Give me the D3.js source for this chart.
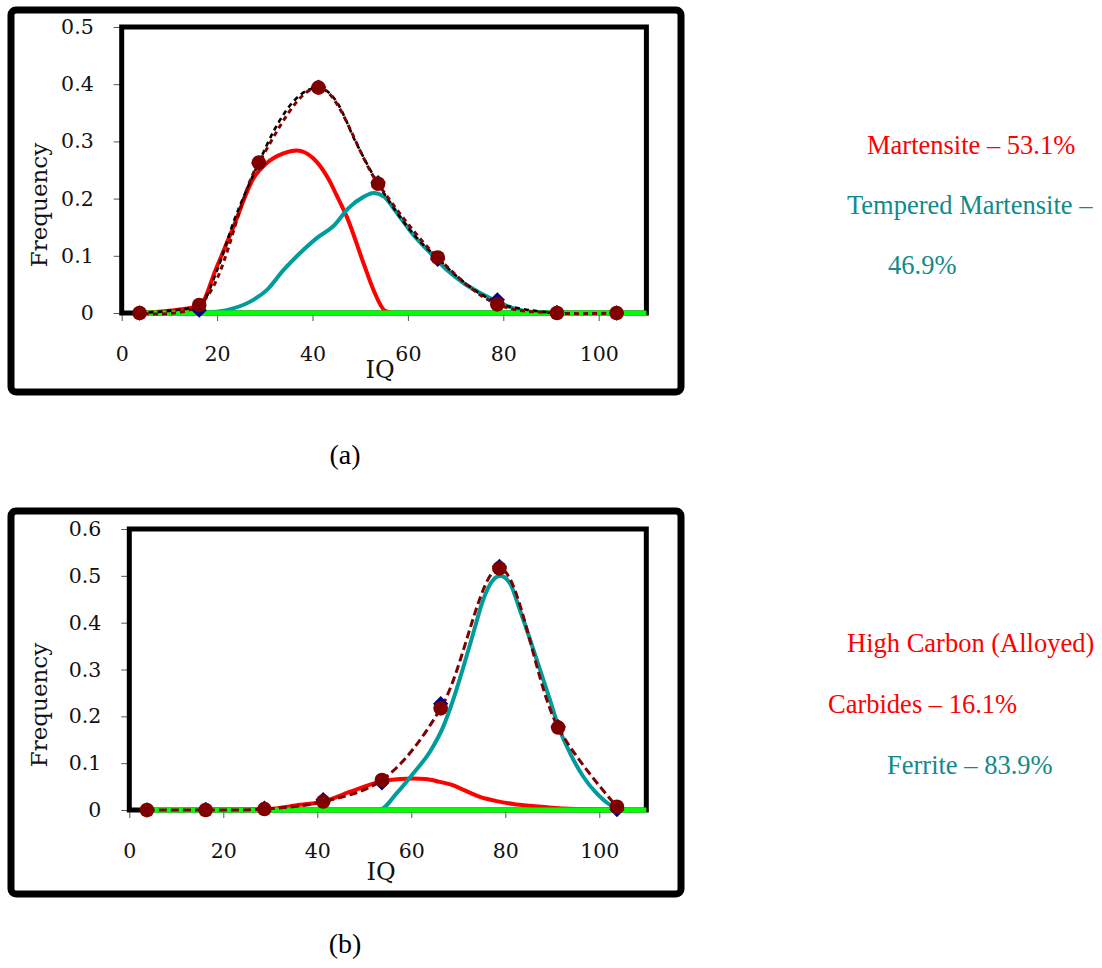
<!DOCTYPE html>
<html><head><meta charset="utf-8">
<script src="https://cdn.jsdelivr.net/npm/d3@7"></script>
<style>body{margin:0;background:#fff;} svg{display:block}</style>
</head><body>
<svg id="c" width="1102" height="968"></svg>
<script>
// ---------- shared data ----------
const binCenters = [3.75, 16.25, 28.75, 41.25, 53.75, 66.25, 78.75, 91.25, 103.75];
const xTickValues = [0, 20, 40, 60, 80, 100];
const xTickLabels = ["0", "20", "40", "60", "80", "100"];
const zeroLine = [[3.75, 0], [110, 0]];

// ---------- panel (a) ----------
const aYTickValues = [0, 0.1, 0.2, 0.3, 0.4, 0.5];
const aYTickLabels = ["0", "0.1", "0.2", "0.3", "0.4", "0.5"];
const aCircles  = [0, 0.014, 0.263, 0.394, 0.226, 0.097, 0.015, 0, 0];
const aDiamonds = [0, 0.005, 0.262, 0.395, 0.228, 0.094, 0.023, 0.001, 0];
const aMartensite = [[3.75,0],[16.25,0.012],[19.9,0.08],[23.4,0.15],[27.6,0.235],[30.4,0.262],[33.9,0.279],[36.7,0.284],[40.2,0.27],[43.3,0.235],[45.1,0.205],[47.2,0.168],[50.7,0.087],[52.8,0.04],[55.2,0.004],[57,0]];
const aTempered = [[3.75,0],[16.25,0],[20,0.002],[23.4,0.008],[27.6,0.023],[30.4,0.04],[33.9,0.075],[37.4,0.105],[40.9,0.131],[44.4,0.152],[47.5,0.183],[50.7,0.203],[52.8,0.21],[54.9,0.204],[57.7,0.175],[61.2,0.136],[64.7,0.105],[68.2,0.075],[71.7,0.052],[75.2,0.035],[78.7,0.02],[82.2,0.008],[85.7,0.002],[90,0]];
const aFit = [[3.75,0],[16.25,0.012],[20,0.075],[23.5,0.16],[28.75,0.263],[32,0.32],[36,0.37],[41.25,0.394],[45,0.37],[49,0.3],[53.75,0.226],[58,0.172],[62,0.13],[66.25,0.096],[70,0.066],[74,0.04],[78.75,0.018],[84,0.007],[88.4,0.002],[92,0]];
const aLegend = [
  {text: "Martensite – 53.1%", color: "red"},
  {text: "Tempered Martensite –", color: "teal"},
  {text: "46.9%", color: "teal"}
];

// ---------- panel (b) ----------
const bYTickValues = [0, 0.1, 0.2, 0.3, 0.4, 0.5, 0.6];
const bYTickLabels = ["0", "0.1", "0.2", "0.3", "0.4", "0.5", "0.6"];
const bCircles  = [0, 0, 0.002, 0.018, 0.064, 0.217, 0.516, 0.176, 0.007];
const bDiamonds = [0, 0.001, 0.004, 0.022, 0.058, 0.227, 0.52, 0.178, 0.001];
const bCarbides = [[3.75,0],[29.2,0.002],[36.3,0.011],[41.3,0.018],[47,0.039],[53.3,0.06],[57.6,0.066],[60.4,0.067],[63,0.066],[66.1,0.06],[68.5,0.054],[71.1,0.043],[74.6,0.028],[78.2,0.019],[81.7,0.013],[85.3,0.009],[88.8,0.006],[92.4,0.003],[100,0.001],[110,0]];
const bFerrite = [[3.75,0],[53.2,0],[56.9,0.036],[60.4,0.078],[64,0.125],[66.8,0.178],[68.9,0.235],[71.1,0.306],[73.2,0.378],[75.3,0.449],[77.4,0.491],[78.9,0.5],[81,0.484],[83.1,0.427],[85.3,0.363],[87.4,0.299],[89.5,0.235],[91.3,0.178],[93.8,0.121],[96.6,0.071],[99.4,0.036],[102.3,0.011],[103.7,0.004],[105.5,0]];
const bLegend = [
  {text: "High Carbon (Alloyed)", color: "red"},
  {text: "Carbides – 16.1%", color: "red"},
  {text: "Ferrite – 83.9%", color: "teal"}
];

// ---------- drawing ----------
const svg = d3.select("#c");
const COL = {red: "#ff0000", tealLine: "#009c9c", teal: "#118a8a", maroon: "#800000", navy: "#000080", green: "#00ff00"};
const tickFont = "'DejaVu Serif', serif";
const legendFont = "'Liberation Serif', 'Times New Roman', serif";

function drawPanel(p) {
  const g = svg.append("g");
  // outer frame
  g.append("rect").attr("x", p.outer[0]).attr("y", p.outer[1])
    .attr("width", p.outer[2]).attr("height", p.outer[3])
    .attr("rx", 5).attr("fill", "none").attr("stroke", "#000").attr("stroke-width", 7);

  const x = d3.scaleLinear().domain([0, 110]).range(p.xRange);
  const y = d3.scaleLinear().domain(p.yDomain).range(p.yRange);

  // axes
  const xAxis = d3.axisBottom(x).tickValues(xTickValues)
    .tickFormat((d, i) => xTickLabels[i]).tickSize(8).tickPadding(25);
  const gx = g.append("g").attr("transform", `translate(0,${p.yRange[0]})`).call(xAxis);
  const yAxis = d3.axisLeft(y).tickValues(p.yTicks)
    .tickFormat((d, i) => p.yLabels[i]).tickSize(8).tickPadding(20);
  const gy = g.append("g").attr("transform", `translate(${p.xRange[0]},0)`).call(yAxis);
  [gx, gy].forEach(a => {
    a.select(".domain").remove();
    a.selectAll(".tick line").attr("stroke", "#555").attr("stroke-width", 1);
    a.selectAll(".tick text").attr("font-family", tickFont).attr("font-size", 20.5).attr("fill", "#111");
  });

  // plot frame
  g.append("rect").attr("x", p.xRange[0]).attr("y", p.yRange[1])
    .attr("width", p.xRange[1] - p.xRange[0]).attr("height", p.yRange[0] - p.yRange[1])
    .attr("fill", "none").attr("stroke", "#000").attr("stroke-width", 5);

  const lineM = d3.line().x(d => x(d[0])).y(d => y(d[1])).curve(d3.curveMonotoneX);
  const lineS = d3.line().x(d => x(d[0])).y(d => y(d[1])).curve(d3.curveCatmullRom.alpha(0.5));

  g.append("path").attr("d", lineM(p.comp1)).attr("fill", "none")
    .attr("stroke", COL.red).attr("stroke-width", 4);
  g.append("path").attr("d", lineM(p.comp2)).attr("fill", "none")
    .attr("stroke", COL.tealLine).attr("stroke-width", 4);
  g.append("path").attr("d", lineM(zeroLine)).attr("fill", "none")
    .attr("stroke", COL.green).attr("stroke-width", 5);

  if (p.fit) {
    g.append("path").attr("d", lineM(p.fit)).attr("fill", "none")
      .attr("stroke", "#000").attr("stroke-width", 2.6).attr("stroke-dasharray", "5,4");
  }
  const dataPts = binCenters.map((c, i) => [c, p.circles[i]]);
  g.append("path").attr("d", lineS(dataPts)).attr("fill", "none")
    .attr("stroke", COL.maroon).attr("stroke-width", 3)
    .attr("stroke-dasharray", p.fit ? "5,4" : "8,4")
    .attr("stroke-dashoffset", p.fit ? 4.5 : 0);

  const dia = d3.symbol().type(d3.symbolSquare).size(118);
  g.selectAll(".dia").data(binCenters.map((c, i) => [c, p.diamonds[i]])).join("path")
    .attr("d", dia).attr("transform", d => `translate(${x(d[0])},${y(d[1])}) rotate(45)`)
    .attr("fill", COL.navy);
  g.selectAll(".cir").data(dataPts).join("circle")
    .attr("cx", d => x(d[0])).attr("cy", d => y(d[1])).attr("r", 7.3)
    .attr("fill", COL.maroon);

  // axis titles
  g.append("text").attr("x", p.iq[0]).attr("y", p.iq[1]).attr("text-anchor", "middle")
    .attr("font-family", tickFont).attr("font-size", 24).attr("fill", "#111").text("IQ");
  g.append("text").attr("transform", `translate(${p.freq[0]},${p.freq[1]}) rotate(-90)`)
    .attr("text-anchor", "middle").attr("font-family", tickFont).attr("font-size", 23)
    .attr("fill", "#111").text("Frequency");

  // legend-like labels
  p.legend.forEach((l, i) => {
    g.append("text").attr("x", p.legendPos[i][0]).attr("y", p.legendPos[i][1])
      .attr("font-family", legendFont).attr("font-size", 26.5)
      .attr("fill", l.color === "red" ? COL.red : COL.teal).text(l.text);
  });

  // caption
  g.append("text").attr("x", p.caption[0]).attr("y", p.caption[1]).attr("text-anchor", "middle")
    .attr("font-family", legendFont).attr("font-size", 28).attr("fill", "#000").text(p.captionText);
}

drawPanel({
  outer: [11, 10, 670, 382],
  xRange: [121.7, 646.4], yRange: [313, 27], yDomain: [0, 0.5],
  yTicks: aYTickValues, yLabels: aYTickLabels,
  circles: aCircles, diamonds: aDiamonds,
  comp1: aMartensite, comp2: aTempered, fit: aFit,
  iq: [380, 378], freq: [46.5, 205],
  legend: aLegend, legendPos: [[867, 154], [847, 214], [888, 274]],
  caption: [345, 464], captionText: "(a)"
});

drawPanel({
  outer: [11, 511, 670, 383],
  xRange: [129.3, 646.3], yRange: [810, 529], yDomain: [0, 0.6],
  yTicks: bYTickValues, yLabels: bYTickLabels,
  circles: bCircles, diamonds: bDiamonds,
  comp1: bCarbides, comp2: bFerrite, fit: null,
  iq: [381, 880], freq: [46.5, 705],
  legend: bLegend, legendPos: [[847, 652], [828, 713], [887, 774]],
  caption: [345, 953], captionText: "(b)"
});
</script>
</body></html>
